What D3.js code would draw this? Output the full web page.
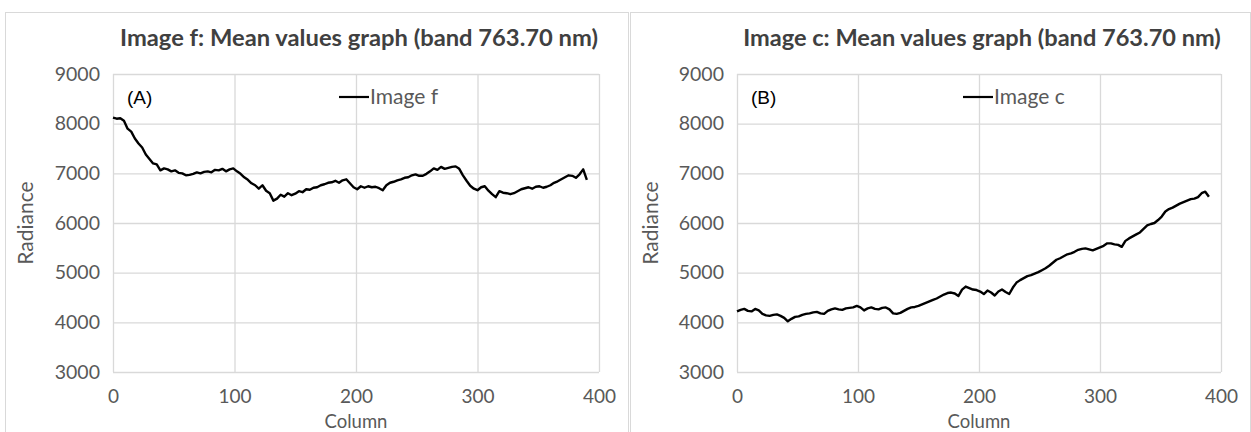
<!DOCTYPE html>
<html>
<head>
<meta charset="utf-8">
<script src="https://cdn.jsdelivr.net/npm/d3@7"></script>
<style>
  html, body { margin: 0; padding: 0; background: #fff; }
  svg { display: block; }
  text { font-family: Lato, "Open Sans", sans-serif; }
</style>
</head>
<body>
<svg id="chart" width="1251" height="432"></svg>
<script>
// Column positions shared by both mean-value profiles
const columns = d3.range(0, 391, 3);

// Image f: mean radiance per column (band 763.70 nm)
const imageF = [
  8120, 8100, 8110, 8060, 7900, 7840, 7700, 7600, 7520, 7380,
  7290, 7200, 7180, 7060, 7100, 7080, 7040, 7060, 7010, 7000,
  6960, 6970, 6990, 7020, 7000, 7030, 7040, 7020, 7070, 7060,
  7090, 7040, 7080, 7100, 7040, 6990, 6920, 6870, 6800, 6760,
  6690, 6760, 6650, 6600, 6450, 6490, 6570, 6530, 6600, 6560,
  6590, 6640, 6620, 6680, 6670, 6710, 6720, 6760, 6780, 6810,
  6820, 6850, 6810, 6860, 6880, 6800, 6720, 6680, 6740, 6710,
  6740, 6720, 6730, 6700, 6660, 6760, 6810, 6830, 6860, 6880,
  6910, 6920, 6960, 6980, 6950, 6950, 6990, 7040, 7100, 7070,
  7130, 7090, 7110, 7130, 7140, 7090, 6960, 6850, 6750, 6690,
  6660, 6720, 6740, 6650, 6580, 6520, 6640, 6610, 6600, 6580,
  6600, 6640, 6680, 6700, 6720, 6690, 6730, 6740, 6710, 6730,
  6760, 6810, 6840, 6880, 6920, 6960, 6950, 6910, 6980, 7080,
  6870
];

// Image c: mean radiance per column (band 763.70 nm)
const imageC = [
  4220, 4250, 4270, 4230, 4220, 4270, 4240, 4170, 4140, 4130,
  4150, 4160, 4130, 4090, 4020, 4070, 4110, 4120, 4150, 4170,
  4180, 4200, 4210, 4180, 4170, 4230, 4260, 4280, 4260, 4250,
  4280, 4290, 4300, 4330, 4300, 4240, 4280, 4300, 4270, 4260,
  4290, 4300, 4260, 4180, 4170, 4190, 4230, 4270, 4300, 4310,
  4330, 4360, 4390, 4420, 4450, 4480, 4520, 4560, 4590, 4600,
  4580, 4530, 4660, 4720, 4690, 4660, 4650, 4620, 4570, 4640,
  4600, 4540, 4620, 4660, 4610, 4570, 4700, 4800, 4850, 4890,
  4930, 4950, 4980, 5010, 5050, 5090, 5140, 5200, 5260, 5290,
  5330, 5370, 5390, 5420, 5460, 5480, 5490, 5470, 5450, 5480,
  5510, 5540, 5590, 5590, 5570, 5560, 5520, 5640, 5690, 5730,
  5770, 5810, 5880, 5950, 5980, 6000, 6060, 6130, 6230, 6280,
  6310, 6350, 6390, 6420, 6450, 6480, 6490, 6520, 6600, 6630,
  6530
];

const xTicks = [0, 100, 200, 300, 400];
const yTicks = [3000, 4000, 5000, 6000, 7000, 8000, 9000];

const panels = [
  { title: "Image f: Mean values graph (band 763.70 nm)", tag: "(A)", legend: "Image f",
    values: imageF, box: [5, 12, 623], plot: [113, 599] },
  { title: "Image c: Mean values graph (band 763.70 nm)", tag: "(B)", legend: "Image c",
    values: imageC, box: [630, 12, 620], plot: [737, 1221] }
];

const svg = d3.select("#chart");
const GRID = "#d9d9d9";
const TEXT = "#595959";
const plotTop = 74, plotBottom = 372;

panels.forEach(p => {
  const g = svg.append("g");

  // panel frame
  g.append("rect")
    .attr("x", p.box[0] + 0.5).attr("y", p.box[1] + 0.5)
    .attr("width", p.box[2]).attr("height", 460)
    .attr("fill", "none").attr("stroke", GRID).attr("stroke-width", 1);

  const x = d3.scaleLinear().domain([0, 400]).range(p.plot);
  const y = d3.scaleLinear().domain([3000, 9000]).range([plotBottom, plotTop]);
  const w = p.plot[1] - p.plot[0];

  // horizontal gridlines + y tick labels
  const ya = g.append("g").attr("transform", `translate(${p.plot[0]},0)`)
    .call(d3.axisLeft(y).tickValues(yTicks).tickSize(-w).tickPadding(13).tickFormat(d3.format("d")));
  ya.select(".domain").remove();
  ya.selectAll(".tick line").attr("stroke", GRID).attr("stroke-width", 1.3);
  ya.selectAll(".tick text").attr("fill", TEXT).style("font-size", "19.5px").style("font-family", "Lato");

  // vertical gridlines + x tick labels
  const xa = g.append("g").attr("transform", `translate(0,${plotBottom})`)
    .call(d3.axisBottom(x).tickValues(xTicks).tickSize(-(plotBottom - plotTop)).tickPadding(18).tickFormat(d3.format("d")));
  xa.select(".domain").remove();
  xa.selectAll(".tick line").attr("stroke", GRID).attr("stroke-width", 1.3);
  xa.selectAll(".tick text").attr("fill", TEXT).style("font-size", "19px").style("font-family", "Lato");

  // series line
  const line = d3.line().x((d, i) => x(columns[i])).y(d => y(d));
  g.append("path").datum(p.values)
    .attr("d", line).attr("fill", "none")
    .attr("stroke", "#000").attr("stroke-width", 2.4).attr("stroke-linejoin", "round");

  // chart title, sized to span the plot width
  const title = g.append("text")
    .attr("x", (p.plot[0] + p.plot[1]) / 2 + 3).attr("y", 46)
    .attr("text-anchor", "middle").attr("fill", "#404040")
    .style("font-weight", "bold").style("font-size", "20px").text(p.title);
  const tw = title.node().getComputedTextLength();
  title.style("font-size", (20 * 478 / tw).toFixed(2) + "px");

  // panel tag
  g.append("text").attr("x", p.plot[0] + 14).attr("y", 104)
    .attr("fill", "#000").style("font-family", "'Liberation Sans', Arial, sans-serif")
    .style("font-size", "19px").text(p.tag);

  // legend
  const lx = p.plot[0] + 226;
  g.append("line").attr("x1", lx).attr("x2", lx + 30).attr("y1", 97).attr("y2", 97)
    .attr("stroke", "#000").attr("stroke-width", 2.2);
  g.append("text").attr("x", lx + 31).attr("y", 104).attr("fill", TEXT)
    .style("font-size", "21px").text(p.legend);

  // axis titles
  g.append("text").attr("transform", `translate(${p.box[0] + 28},${(plotTop + plotBottom) / 2}) rotate(-90)`)
    .attr("text-anchor", "middle").attr("fill", TEXT).style("font-size", "21px").text("Radiance");
  g.append("text").attr("x", (p.plot[0] + p.plot[1]) / 2).attr("y", 427.5)
    .attr("text-anchor", "middle").attr("fill", TEXT).style("font-size", "18.5px").text("Column");
});
</script>
</body>
</html>
